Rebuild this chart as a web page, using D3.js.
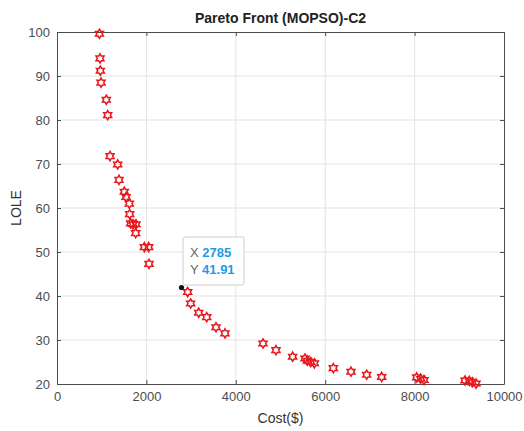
<!DOCTYPE html>
<html><head><meta charset="utf-8">
<script src="https://cdn.jsdelivr.net/npm/d3@7"></script>
<style>body{margin:0;background:#fff;}svg{display:block;font-family:Helvetica,Arial,"Liberation Sans",sans-serif;}</style>
</head><body><svg id="c" width="524" height="431"></svg>
<script>
const costs = [950,962,970,985,1103,1134,1186,1357,1387,1506,1544,1618,1626,1648,1700,1767,1760,1954,2051,2058,2923,2990,3170,3349,3557,3758,4609,4899,5272,5548,5600,5676,5757,6182,6577,6928,7263,8046,8136,8210,9128,9224,9291,9374];
const lole  = [99.6,94.0,91.2,88.5,84.6,81.1,71.8,69.9,66.4,63.7,62.5,61.0,58.6,56.5,56.3,56.3,54.3,51.1,51.1,47.3,40.9,38.3,36.2,35.2,32.9,31.5,29.2,27.7,26.2,25.8,25.3,25.0,24.7,23.6,22.8,22.1,21.6,21.5,21.2,20.9,20.8,20.7,20.4,20.1];
const tip = {x:2785, y:41.91};
const xTicks = [0,2000,4000,6000,8000,10000];
const yTicks = [20,30,40,50,60,70,80,90,100];

const svg = d3.select("#c");
const L=57,R=504,T=32,B=384;
const x = d3.scaleLinear().domain([0,10000]).range([L,R]);
const y = d3.scaleLinear().domain([20,100]).range([B,T]);
const axisCol="#4d4d4d", gridCol="#e3e3e3";
const fmt = d3.format("d");

// grid
svg.append("g").selectAll("line").data(xTicks.slice(1,-1)).join("line")
 .attr("x1",d=>x(d)).attr("x2",d=>x(d)).attr("y1",T).attr("y2",B).attr("stroke",gridCol);
svg.append("g").selectAll("line").data(yTicks.slice(1,-1)).join("line")
 .attr("y1",d=>y(d)).attr("y2",d=>y(d)).attr("x1",L).attr("x2",R).attr("stroke",gridCol);

// axes
const ax = (g, axis) => { g.call(axis); g.select(".domain").attr("stroke",axisCol); g.selectAll(".tick line").attr("stroke",axisCol); g.selectAll("text").attr("fill",axisCol).style("font-size","13px"); };
svg.append("g").attr("transform",`translate(0,${B})`).call(g=>ax(g,d3.axisBottom(x).tickValues(xTicks).tickFormat(fmt).tickSizeInner(-4).tickSizeOuter(0).tickPadding(8)));
svg.append("g").attr("transform",`translate(0,${T})`).call(g=>{ax(g,d3.axisTop(x).tickValues(xTicks).tickSizeInner(-4).tickSizeOuter(0).tickFormat(""));});
svg.append("g").attr("transform",`translate(${L},0)`).call(g=>ax(g,d3.axisLeft(y).tickValues(yTicks).tickFormat(fmt).tickSizeInner(-4).tickSizeOuter(0).tickPadding(7)));
svg.append("g").attr("transform",`translate(${R},0)`).call(g=>{ax(g,d3.axisRight(y).tickValues(yTicks).tickSizeInner(-4).tickSizeOuter(0).tickFormat(""));});

// hexagram
function hexagram(r){const ri=r/Math.sqrt(3);const p=[];for(let i=0;i<12;i++){const a=-Math.PI/2+i*Math.PI/6;const rr=i%2?ri:r;p.push([rr*Math.cos(a),rr*Math.sin(a)]);}return "M"+p.map(q=>q[0].toFixed(2)+","+q[1].toFixed(2)).join("L")+"Z";}
const hp=hexagram(4.6);
svg.append("g").selectAll("path").data(costs.map((c,i)=>[c,lole[i]])).join("path")
 .attr("d",hp).attr("transform",d=>`translate(${x(d[0])},${y(d[1])})`)
 .attr("fill","none").attr("stroke","#e8161b").attr("stroke-width",1.5);

// datatip point
svg.append("circle").attr("cx",x(tip.x)).attr("cy",y(tip.y)).attr("r",2.6).attr("fill","#111");
const bx=183, by=237;
svg.append("rect").attr("x",bx).attr("y",by).attr("width",61).attr("height",48).attr("rx",2)
 .attr("fill","#fff").attr("stroke","#cfcfcf").attr("stroke-width",1);
const tt=svg.append("g").style("font-size","13px");
[["X",tip.x],["Y",tip.y]].forEach((r,i)=>{
 const t=tt.append("text").attr("x",bx+7).attr("y",by+20+i*17);
 t.append("tspan").attr("fill","#666").text(r[0]+" ");
 t.append("tspan").attr("fill","#1f9ae6").attr("font-weight","bold").text(r[1]);
});

// title & labels
svg.append("text").attr("x",(L+R)/2).attr("y",23).attr("text-anchor","middle").attr("font-weight","bold").style("font-size","14px").attr("fill","#222").text("Pareto Front (MOPSO)-C2");
svg.append("text").attr("x",(L+R)/2).attr("y",423).attr("text-anchor","middle").style("font-size","14px").attr("fill","#333").text("Cost($)");
svg.append("text").attr("transform",`translate(21,${(T+B)/2}) rotate(-90)`).attr("text-anchor","middle").style("font-size","14px").attr("fill","#333").text("LOLE");
</script></body></html>
